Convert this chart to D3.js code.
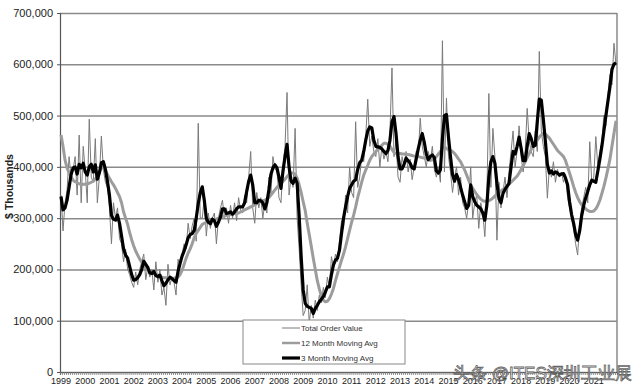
<!DOCTYPE html>
<html>
<head>
<meta charset="utf-8">
<script src="https://cdn.jsdelivr.net/npm/d3@7"></script>
<style>
  body { margin: 0; background: #fff; }
  text { font-family: "Liberation Sans", Arial, sans-serif; }
</style>
</head>
<body>
<div id="chart"></div>
<script>
// monthly values, $ thousands, Jan 1999 .. Dec 2021
const yearLabels = d3.range(1999, 2022).map(String);
const yTicks = [0, 100, 200, 300, 400, 500, 600, 700];

const totalOrders = [
  345,275,330,355,420,380,395,420,345,462,330,440,
  393,330,493,380,370,455,330,380,460,395,370,360,
  320,250,330,300,320,260,250,215,240,200,190,175,
  165,195,170,200,215,230,180,205,185,200,160,215,
  175,200,150,165,130,210,170,185,175,150,220,205,
  230,250,240,290,260,285,300,255,485,300,300,340,
  265,310,280,300,310,250,300,320,335,300,320,290,
  325,300,330,295,340,315,310,345,330,381,430,320,
  290,350,320,340,300,330,310,380,345,420,395,395,
  340,330,400,440,545,345,380,360,475,300,240,170,
  110,120,170,95,130,105,140,120,150,135,165,145,
  185,165,225,205,230,215,255,295,280,345,310,400,
  350,340,488,360,380,420,410,460,532,440,460,430,
  420,455,400,440,415,430,410,470,593,420,450,380,
  370,420,400,430,390,415,375,400,430,420,495,440,
  420,400,430,410,440,395,380,400,370,646,390,534,
  420,390,350,380,400,345,380,330,320,300,330,400,
  300,330,345,280,330,310,264,340,543,360,475,420,
  257,370,320,350,380,340,390,430,470,400,430,480,
  420,390,430,514,450,430,420,470,430,625,470,440,
  420,339,400,380,410,370,395,380,390,370,385,340,
  320,300,280,250,228,290,320,340,360,330,449,370,
  380,459,400,430,450,501,480,540,580,560,641,600
];

const avg12 = [
  462,440,413,398,388,380,374,371,369,367,365,366,
  366,367,368,370,372,376,382,390,397,398,394,385,
  378,371,365,358,350,342,330,312,300,288,272,258,
  246,236,228,220,214,208,203,200,196,194,192,190,
  188,186,185,184,184,183,183,183,183,184,185,190,
  198,210,222,232,240,250,262,270,276,282,288,290,
  292,294,295,296,297,298,300,302,303,304,305,306,
  307,308,309,309,310,312,314,316,318,320,322,324,
  326,328,330,332,334,335,337,340,345,350,355,360,
  364,368,372,376,381,385,388,388,386,378,365,350,
  332,315,290,268,245,222,200,178,162,148,140,137,
  138,143,152,163,178,192,205,218,230,244,260,276,
  292,306,322,340,355,370,384,394,403,413,420,425,
  430,434,438,442,446,446,444,440,434,428,426,426,
  426,425,425,424,424,423,422,421,420,420,419,418,
  417,416,414,413,414,416,420,425,430,436,438,436,
  433,432,430,426,421,415,410,402,394,384,374,364,
  358,352,346,341,337,334,333,333,334,336,339,343,
  347,350,353,356,359,362,366,370,374,378,382,388,
  395,402,410,418,426,434,440,446,452,458,462,465,
  464,460,456,450,444,438,432,428,424,420,412,400,
  388,375,362,350,340,332,326,322,318,315,313,313,
  314,318,325,335,348,362,378,396,415,440,465,490
];

const avg3 = [
  342,316,320,335,360,385,398,400,386,405,398,407,
  390,384,400,405,390,404,376,388,408,410,395,372,
  345,305,298,296,306,290,265,240,228,222,206,190,
  179,180,184,190,200,216,210,204,193,192,196,188,
  186,189,178,168,173,180,185,182,178,175,196,212,
  226,236,248,262,268,270,276,300,328,350,361,335,
  300,292,289,298,295,284,292,302,318,318,309,310,
  312,308,312,318,322,322,322,330,352,372,384,365,
  330,330,335,334,330,318,330,355,385,398,404,398,
  380,358,392,420,444,400,372,368,378,368,305,225,
  160,134,128,126,124,114,124,130,137,142,147,156,
  166,166,190,209,218,222,238,270,300,322,342,358,
  365,372,375,395,408,413,430,452,470,478,476,452,
  440,439,438,435,430,426,432,452,488,498,465,420,
  396,396,405,417,412,407,398,396,415,435,452,465,
  448,425,414,420,423,418,392,388,394,455,500,502,
  458,420,385,372,385,375,360,345,332,319,325,365,
  342,332,325,322,318,310,296,325,380,410,420,407,
  368,338,330,348,356,362,368,400,430,425,440,458,
  436,412,412,440,465,455,440,442,488,532,530,492,
  450,405,388,392,386,390,388,384,386,387,378,365,
  332,307,290,268,257,275,305,325,340,352,365,374,
  372,370,392,415,440,470,500,528,556,590,600,603
];

const width = 640, height = 391;
const margin = { left: 60, right: 23, top: 13, bottom: 19 };
const plotW = width - margin.left - margin.right;
const plotH = height - margin.top - margin.bottom;

const svg = d3.select("#chart").append("svg")
  .attr("width", width)
  .attr("height", height);

const x = d3.scaleLinear().domain([0, totalOrders.length]).range([margin.left, margin.left + plotW]);
const y = d3.scaleLinear().domain([0, 700]).range([margin.top + plotH, margin.top]);

// gridlines
svg.append("g")
  .attr("transform", `translate(${margin.left},0)`)
  .call(d3.axisLeft(y).tickValues(yTicks).tickSize(-plotW).tickFormat(""))
  .call(g => g.select(".domain").remove())
  .call(g => g.selectAll("line").attr("stroke", "#8a8a8a").attr("stroke-width", 1.5));

// right border
svg.append("line")
  .attr("x1", margin.left + plotW).attr("x2", margin.left + plotW)
  .attr("y1", margin.top).attr("y2", margin.top + plotH)
  .attr("stroke", "#8a8a8a").attr("stroke-width", 1.5);

// y axis
svg.append("g")
  .attr("transform", `translate(${margin.left},0)`)
  .call(d3.axisLeft(y).tickValues(yTicks).tickSize(3).tickPadding(4)
    .tickFormat(d => d3.format(",")(d * 1000)))
  .call(g => g.select(".domain").attr("stroke", "#555").attr("stroke-width", 1.2))
  .call(g => g.selectAll("line").attr("stroke", "#555"))
  .call(g => g.selectAll("text").attr("font-size", 11).attr("fill", "#222"));

// x axis, monthly ticks
svg.append("g")
  .attr("transform", `translate(0,${margin.top + plotH})`)
  .call(d3.axisBottom(x).tickValues(d3.range(0, totalOrders.length + 1)).tickSize(3).tickFormat(""))
  .call(g => g.select(".domain").attr("stroke", "#555").attr("stroke-width", 1.2))
  .call(g => g.selectAll("line").attr("stroke", "#777").attr("stroke-width", 0.8));

svg.append("g").selectAll("text")
  .data(yearLabels)
  .enter().append("text")
    .attr("x", (d, i) => x(i * 12 + 0.5))
    .attr("y", margin.top + plotH + 12)
    .attr("text-anchor", "middle")
    .attr("font-size", 9)
    .attr("fill", "#222")
    .text(d => d);

// axis title
svg.append("text")
  .attr("transform", `translate(9,${margin.top + plotH / 2 - 6}) rotate(-90)`)
  .attr("text-anchor", "middle")
  .attr("dominant-baseline", "central")
  .attr("font-size", 10.5)
  .attr("font-weight", "bold")
  .attr("fill", "#222")
  .text("$ Thousands");

// lines
const line = d3.line()
  .x((d, i) => x(i + 0.5))
  .y(d => y(d));

svg.append("path").datum(totalOrders)
  .attr("fill", "none").attr("stroke", "#7a7a7a").attr("stroke-width", 1)
  .attr("d", line);
svg.append("path").datum(avg12)
  .attr("fill", "none").attr("stroke", "#9c9c9c").attr("stroke-width", 3)
  .attr("stroke-linejoin", "round")
  .attr("d", line);
svg.append("path").datum(avg3)
  .attr("fill", "none").attr("stroke", "#000").attr("stroke-width", 3.2)
  .attr("stroke-linejoin", "round")
  .attr("d", line);

// legend
const legend = svg.append("g");
legend.append("rect")
  .attr("x", 243).attr("y", 320).attr("width", 162).attr("height", 44)
  .attr("fill", "#fff").attr("stroke", "#888");
const legendItems = [
  { label: "Total Order Value", color: "#7a7a7a", w: 1 },
  { label: "12 Month Moving Avg", color: "#9c9c9c", w: 2.5 },
  { label: "3 Month Moving Avg", color: "#000", w: 3.2 }
];
legendItems.forEach((d, i) => {
  const ly = 328 + i * 15;
  legend.append("line")
    .attr("x1", 282).attr("x2", 300).attr("y1", ly).attr("y2", ly)
    .attr("stroke", d.color).attr("stroke-width", d.w);
  legend.append("text")
    .attr("x", 301).attr("y", ly + 3)
    .attr("font-size", 8).attr("fill", "#333")
    .text(d.label);
});

// watermark (overlaps the year labels, as in the source image)
svg.append("text")
  .attr("x", 453).attr("y", 379)
  .attr("font-family", "'Noto Sans CJK SC', sans-serif")
  .attr("font-size", 17)
  .attr("fill", "#fff")
  .attr("stroke", "#555")
  .attr("stroke-width", 0.8)
  .attr("opacity", 0.9)
  .text("头条 @ITES深圳工业展");
</script>
</body>
</html>
